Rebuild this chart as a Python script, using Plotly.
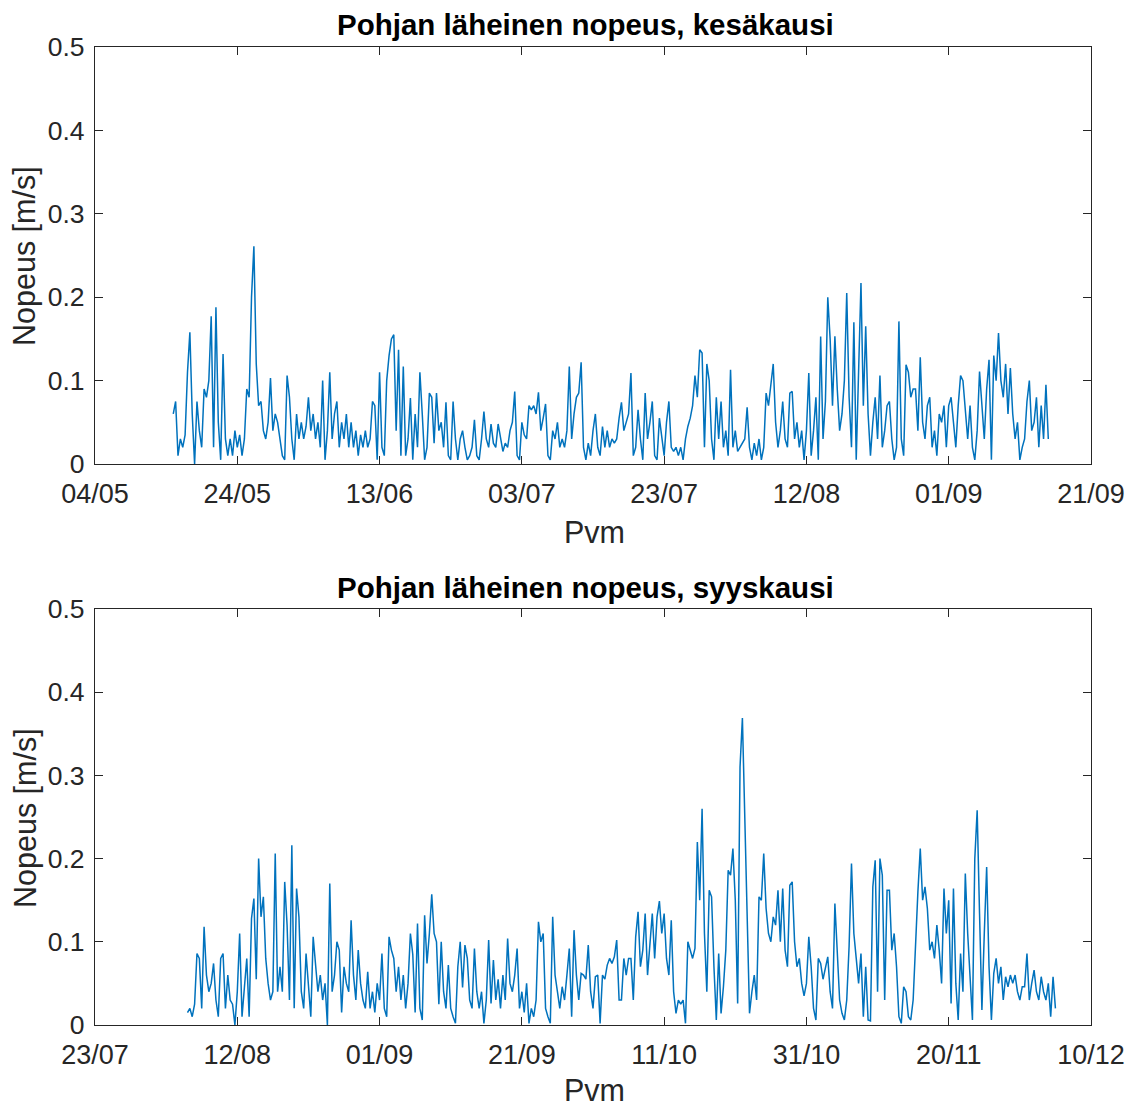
import pandas as pd
import plotly.graph_objects as go

# ---------------- data (8-hour steps) ----------------
summer_start = "2021-05-15 00:00"
summer_speed = [
    0.06, 0.075, 0.01, 0.03, 0.02, 0.035, 0.11, 0.158, 0.06, 0.0, 0.075, 0.04,
    0.02, 0.09, 0.08, 0.1, 0.177, 0.02, 0.188, 0.05, 0.005, 0.132, 0.03, 0.01,
    0.03, 0.01, 0.04, 0.02, 0.035, 0.01, 0.03, 0.09, 0.08, 0.2, 0.261, 0.12,
    0.07, 0.075, 0.04, 0.03, 0.05, 0.103, 0.04, 0.06, 0.05, 0.03, 0.01, 0.005,
    0.106, 0.08, 0.03, 0.005, 0.06, 0.03, 0.05, 0.03, 0.045, 0.08, 0.04, 0.06,
    0.03, 0.05, 0.02, 0.1, 0.005, 0.04, 0.11, 0.03, 0.06, 0.075, 0.02, 0.05,
    0.03, 0.06, 0.02, 0.05, 0.02, 0.04, 0.01, 0.035, 0.02, 0.04, 0.02, 0.03,
    0.075, 0.07, 0.005, 0.11, 0.02, 0.01, 0.1, 0.13, 0.15,
    # June 15 ->
    0.155, 0.04, 0.137, 0.01, 0.117, 0.01, 0.03, 0.079, 0.005, 0.06, 0.02, 0.11,
    0.06, 0.005, 0.02, 0.085, 0.08, 0.025, 0.085, 0.04, 0.05, 0.02, 0.074, 0.01,
    0.005, 0.075, 0.03, 0.005, 0.03, 0.04, 0.02, 0.005, 0.01, 0.02, 0.053, 0.01,
    0.005, 0.03, 0.063, 0.03, 0.02, 0.048, 0.025, 0.02, 0.048, 0.03, 0.015, 0.025,
    0.02, 0.04, 0.05, 0.087, 0.01, 0.005, 0.05, 0.035, 0.03, 0.07, 0.065, 0.07,
    0.06, 0.086, 0.04, 0.055, 0.072, 0.01, 0.005, 0.04, 0.03, 0.05, 0.02, 0.03,
    0.02, 0.04, 0.117, 0.03, 0.06, 0.08, 0.085, 0.122, 0.02, 0.005, 0.025, 0.01,
    0.04, 0.06, 0.02, 0.01, 0.045, 0.02, 0.04, 0.02, 0.03, 0.025, 0.03, 0.055,
    # July 17 ->
    0.074, 0.04, 0.05, 0.06, 0.109, 0.01, 0.02, 0.065, 0.03, 0.005, 0.085, 0.03,
    0.05, 0.075, 0.01, 0.005, 0.055, 0.03, 0.01, 0.05, 0.075, 0.02, 0.015, 0.02,
    0.01, 0.02, 0.005, 0.03, 0.045, 0.055, 0.07, 0.106, 0.08, 0.137, 0.133, 0.02,
    0.12, 0.1, 0.03, 0.005, 0.08, 0.03, 0.075, 0.02, 0.04, 0.01, 0.113, 0.02,
    0.04, 0.015, 0.02, 0.025, 0.03, 0.068, 0.02, 0.005, 0.025, 0.01, 0.03, 0.005,
    0.02, 0.085, 0.07, 0.095, 0.12, 0.05, 0.02, 0.04, 0.075, 0.03, 0.02, 0.085,
    0.087, 0.03, 0.05, 0.02, 0.04, 0.005, 0.04, 0.109, 0.01, 0.04, 0.08, 0.005,
    0.153, 0.03, 0.075, 0.2, 0.15, 0.07, 0.153, 0.09, 0.04,
    # Aug 17 ->
    0.06, 0.1, 0.205, 0.08, 0.02, 0.17, 0.005, 0.12, 0.217, 0.07, 0.165, 0.06,
    0.01, 0.05, 0.08, 0.03, 0.106, 0.02, 0.04, 0.07, 0.075, 0.03, 0.005, 0.02,
    0.171, 0.03, 0.01, 0.119, 0.11, 0.08, 0.09, 0.09, 0.04, 0.128, 0.05, 0.03,
    0.07, 0.08, 0.02, 0.04, 0.01, 0.06, 0.05, 0.07, 0.02, 0.07, 0.08, 0.05,
    0.02, 0.07, 0.106, 0.1, 0.06, 0.03, 0.07, 0.02, 0.005, 0.04, 0.111, 0.07,
    0.03, 0.09, 0.125, 0.005, 0.13, 0.1, 0.157, 0.1, 0.08, 0.12, 0.06, 0.115,
    0.06, 0.03, 0.05, 0.005, 0.02, 0.03, 0.075, 0.1, 0.04, 0.05, 0.08, 0.02,
    0.07, 0.03, 0.095, 0.03,
]

autumn_start = "2021-08-05 00:00"
autumn_speed = [
    0.015, 0.02, 0.01, 0.025, 0.086, 0.08, 0.02, 0.118, 0.06, 0.04, 0.05, 0.074,
    0.03, 0.01, 0.08, 0.086, 0.02, 0.06, 0.03, 0.025, 0.0, 0.04, 0.11, 0.01,
    0.045, 0.08, 0.01, 0.128, 0.152, 0.055, 0.2, 0.13, 0.154, 0.08, 0.05, 0.03,
    0.04, 0.206, 0.04, 0.07, 0.04, 0.172, 0.12, 0.03, 0.216, 0.02, 0.164, 0.13,
    0.04, 0.02, 0.086, 0.05, 0.01, 0.106, 0.07, 0.04, 0.06, 0.03, 0.05, 0.0,
    0.17, 0.04, 0.06, 0.1, 0.09, 0.015, 0.07, 0.05, 0.04, 0.126, 0.06, 0.03,
    0.09, 0.05, 0.03, 0.02, 0.064, 0.02, 0.04, 0.015, 0.05, 0.03, 0.086, 0.02,
    0.01, 0.106, 0.09, 0.08, 0.04, 0.07, 0.03, 0.06, 0.02,
    # Sept 5 ->
    0.05, 0.11, 0.085, 0.015, 0.122, 0.02, 0.006, 0.132, 0.074, 0.11, 0.157, 0.11,
    0.1, 0.025, 0.1, 0.04, 0.02, 0.072, 0.02, 0.01, 0.002, 0.07, 0.1, 0.045,
    0.096, 0.08, 0.03, 0.02, 0.092, 0.04, 0.02, 0.04, 0.002, 0.03, 0.102, 0.026,
    0.078, 0.03, 0.055, 0.02, 0.06, 0.03, 0.104, 0.05, 0.04, 0.06, 0.092, 0.02,
    0.04, 0.015, 0.05, 0.002, 0.02, 0.01, 0.03, 0.124, 0.1, 0.11, 0.02, 0.01,
    0.002, 0.13, 0.06, 0.04, 0.02, 0.046, 0.03, 0.06, 0.092, 0.01, 0.114, 0.06,
    0.03, 0.062, 0.06, 0.055, 0.096, 0.04, 0.02, 0.058, 0.06, 0.002, 0.06, 0.055,
    0.072, 0.08, 0.074, 0.082, 0.102, 0.03, 0.03, 0.08, 0.06,
    # Oct 6 ->
    0.08, 0.08, 0.03, 0.106, 0.136, 0.07, 0.09, 0.134, 0.06, 0.1, 0.134, 0.08,
    0.13, 0.149, 0.11, 0.134, 0.08, 0.06, 0.126, 0.04, 0.014, 0.03, 0.025, 0.03,
    0.002, 0.1, 0.09, 0.08, 0.092, 0.22, 0.15, 0.26, 0.11, 0.04, 0.162, 0.154,
    0.07, 0.006, 0.086, 0.014, 0.046, 0.09, 0.186, 0.18, 0.212, 0.15, 0.026, 0.31,
    0.369, 0.24, 0.11, 0.014, 0.04, 0.06, 0.03, 0.154, 0.15, 0.206, 0.14, 0.11,
    0.1, 0.13, 0.12, 0.162, 0.1, 0.164, 0.09, 0.07, 0.168, 0.172, 0.1, 0.07,
    0.08, 0.05, 0.035, 0.05, 0.106, 0.07, 0.02, 0.006, 0.08, 0.074, 0.055, 0.07,
    0.082, 0.04, 0.02, 0.146, 0.078, 0.03, 0.014, 0.006, 0.03, 0.095, 0.194, 0.11,
    # Nov 8 ->
    0.08, 0.05, 0.086, 0.01, 0.07, 0.006, 0.005, 0.166, 0.198, 0.04, 0.2, 0.18,
    0.03, 0.162, 0.162, 0.09, 0.11, 0.07, 0.01, 0.002, 0.046, 0.04, 0.01, 0.006,
    0.03, 0.1, 0.16, 0.212, 0.15, 0.166, 0.14, 0.09, 0.1, 0.08, 0.12, 0.09,
    0.05, 0.164, 0.11, 0.15, 0.026, 0.164, 0.05, 0.006, 0.086, 0.04, 0.182, 0.11,
    0.054, 0.006, 0.2, 0.258, 0.134, 0.018, 0.11, 0.19, 0.07, 0.006, 0.062, 0.08,
    0.05, 0.07, 0.03, 0.058, 0.046, 0.06, 0.05, 0.06, 0.04, 0.03, 0.046, 0.046,
    0.086, 0.03, 0.05, 0.066, 0.04, 0.03, 0.058, 0.04, 0.03, 0.05, 0.01, 0.058,
    0.02,
]

summer_ticks = ["2021-05-04", "2021-05-24", "2021-06-13", "2021-07-03",
                "2021-07-23", "2021-08-12", "2021-09-01", "2021-09-21"]
autumn_ticks = ["2021-07-23", "2021-08-12", "2021-09-01", "2021-09-21",
                "2021-10-11", "2021-10-31", "2021-11-20", "2021-12-10"]
y_ticks = [0, 0.1, 0.2, 0.3, 0.4, 0.5]
y_tick_text = ["0", "0.1", "0.2", "0.3", "0.4", "0.5"]

titles = ["Pohjan läheinen nopeus, kesäkausi", "Pohjan läheinen nopeus, syyskausi"]
x_label = "Pvm"
y_label = "Nopeus [m/s]"

# ---------------- figure ----------------
W, H = 1132, 1106
FONT = "Liberation Sans, Arial, sans-serif"
AX = "#262626"
LINE = "#0072BD"

summer_x = pd.date_range(summer_start, periods=len(summer_speed), freq="8h")
autumn_x = pd.date_range(autumn_start, periods=len(autumn_speed), freq="8h")

fig = go.Figure()
fig.add_trace(go.Scatter(x=summer_x, y=summer_speed, mode="lines",
                         line=dict(color=LINE, width=1.5), xaxis="x", yaxis="y",
                         showlegend=False))
fig.add_trace(go.Scatter(x=autumn_x, y=autumn_speed, mode="lines",
                         line=dict(color=LINE, width=1.5), xaxis="x2", yaxis="y2",
                         showlegend=False))

xdom = [95 / W, 1091 / W]
top_dom = [1 - 464 / H, 1 - 47 / H]
bot_dom = [1 - 1025 / H, 1 - 609 / H]


def xaxis(ticks, anchor):
    return dict(
        domain=xdom, anchor=anchor, type="date",
        range=[ticks[0], ticks[-1]],
        tickmode="array", tickvals=ticks,
        ticktext=[pd.Timestamp(t).strftime("%d/%m") for t in ticks],
        ticks="inside", ticklen=8, tickwidth=1.2, tickcolor=AX,
        showline=True, linecolor=AX, linewidth=1.2, mirror="allticks",
        showgrid=False, zeroline=False, automargin=False,
        tickfont=dict(family=FONT, size=27, color=AX),
        ticklabelstandoff=5,
    )


def yaxis(anchor, dom):
    return dict(
        domain=dom, anchor=anchor, range=[0, 0.5],
        tickmode="array", tickvals=y_ticks, ticktext=y_tick_text,
        ticks="inside", ticklen=8, tickwidth=1.2, tickcolor=AX,
        showline=True, linecolor=AX, linewidth=1.2, mirror="allticks",
        showgrid=False, zeroline=False, automargin=False,
        tickfont=dict(family=FONT, size=26.5, color=AX),
        ticklabelstandoff=4,
    )


annotations = []
for i, (title, dom) in enumerate(zip(titles, [top_dom, bot_dom])):
    top_px = (1 - dom[1]) * H
    bot_px = (1 - dom[0]) * H
    annotations.append(dict(
        text="<b>" + title + "</b>", x=585 / W,
        y=1 - (top_px - 22) / H, xref="paper", yref="paper",
        xanchor="center", yanchor="middle", showarrow=False,
        font=dict(family=FONT, size=29.5, color="#000000")))
    annotations.append(dict(
        text=x_label, x=594 / W,
        y=1 - (bot_px + 68 - 3 * i) / H, xref="paper", yref="paper",
        xanchor="center", yanchor="middle", showarrow=False,
        font=dict(family=FONT, size=30.5, color=AX)))
    annotations.append(dict(
        text=y_label, x=25 / W, y=1 - (top_px + 209) / H,
        xref="paper", yref="paper", textangle=-90,
        xanchor="center", yanchor="middle", showarrow=False,
        font=dict(family=FONT, size=30.5, color=AX)))

fig.update_layout(
    width=W, height=H,
    margin=dict(l=0, r=0, t=0, b=0, autoexpand=False),
    paper_bgcolor="white", plot_bgcolor="white",
    xaxis=xaxis(summer_ticks, "y"),
    yaxis=yaxis("x", top_dom),
    xaxis2=xaxis(autumn_ticks, "y2"),
    yaxis2=yaxis("x2", bot_dom),
    annotations=annotations,
    showlegend=False,
)

fig.write_html("out.html")
